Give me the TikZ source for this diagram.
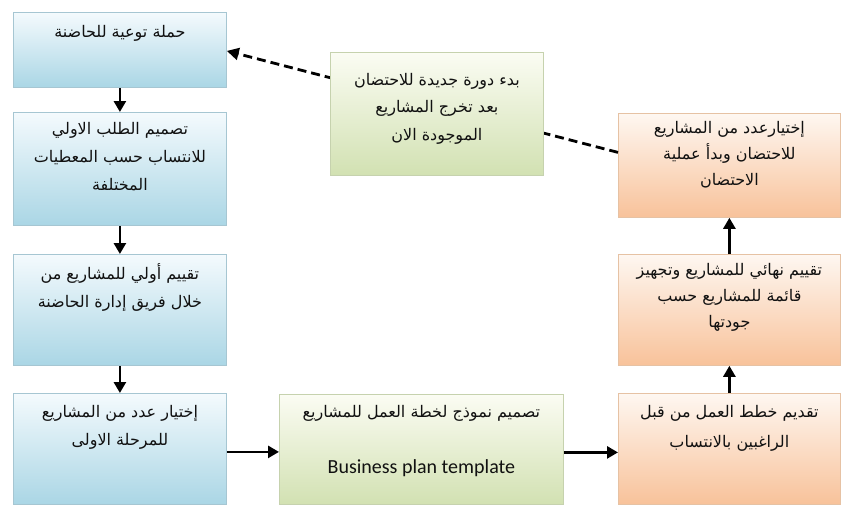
\documentclass[tikz,border=0pt]{standalone}
\usepackage{fontspec}
\setmainfont{Carlito}
\newfontfamily\arabicfont[Script=Arabic]{DejaVu Sans}
\TeXXeTstate=1
\usetikzlibrary{arrows.meta,calc}
\definecolor{bluetop}{HTML}{F4FAFD}
\definecolor{bluebot}{HTML}{AAD6E5}
\definecolor{blueline}{HTML}{A6C6D2}
\definecolor{greentop}{HTML}{FBFCF3}
\definecolor{greenbot}{HTML}{D2E1B2}
\definecolor{greenline}{HTML}{C6D2AE}
\definecolor{orangetop}{HTML}{FEF7F1}
\definecolor{orangebot}{HTML}{F8C29A}
\definecolor{orangeline}{HTML}{E6C2A4}
\definecolor{txtcol}{HTML}{111111}
\tikzset{
  boxbase/.style={rectangle, anchor=north west, inner sep=0pt, line width=0.8pt},
  bluebox/.style={boxbase, draw=blueline, top color=bluetop, bottom color=bluebot},
  greenbox/.style={boxbase, draw=greenline, top color=greentop, bottom color=greenbot},
  orangebox/.style={boxbase, draw=orangeline, top color=orangetop, bottom color=orangebot},
  ar/.style={anchor=north, align=center, inner sep=0pt, text=txtcol,
    font=\arabicfont\fontsize{16}{28}\selectfont},
  conn/.style={line width=2.6pt, -{Triangle[length=11pt,width=12pt]}},
  dconn/.style={line width=2.8pt, dash pattern=on 9pt off 5pt, -{Triangle[length=12pt,width=12pt]}}
}
\begin{document}
\begin{tikzpicture}[x=1pt,y=-1pt]
\useasboundingbox (0,0) rectangle (841,506);
% left column
\node[bluebox, minimum width=213pt, minimum height=75pt] (b1) at (13,12) {};
\node[bluebox, minimum width=213pt, minimum height=113pt] (b2) at (13,112) {};
\node[bluebox, minimum width=213pt, minimum height=111pt] (b3) at (13,254) {};
\node[bluebox, minimum width=213pt, minimum height=111pt] (b4) at (13,393) {};
% bottom middle
\node[greenbox, minimum width=284pt, minimum height=110pt] (m1) at (279,394) {};
% right column
\node[orangebox, minimum width=222pt, minimum height=111pt] (r1) at (618,393) {};
\node[orangebox, minimum width=222pt, minimum height=111pt] (r2) at (618,254) {};
\node[orangebox, minimum width=222pt, minimum height=104pt] (r3) at (618,113) {};

% texts
\node[ar] (t1) at ([yshift=-13pt]b1.north) {\beginR حملة توعية للحاضنة\endR};
\node[ar] (t2) at ([yshift=-10pt]b2.north) {\beginR تصميم الطلب الاولي\endR\\\beginR للانتساب حسب المعطيات\endR\\\beginR المختلفة\endR};
\node[ar] (t3) at ([yshift=-9pt]b3.north) {\beginR تقييم أولي للمشاريع من\endR\\\beginR خلال فريق إدارة الحاضنة\endR};
\node[ar] (t4) at ([yshift=-12pt]b4.north) {\beginR إختيار عدد من المشاريع\endR\\\beginR للمرحلة الاولى\endR};
\node[ar] (t5) at ([yshift=-11pt]m1.north) {\beginR تصميم نموذج لخطة العمل للمشاريع\endR};
\node[anchor=center, inner sep=0pt, text=txtcol, font=\fontsize{20}{24}\selectfont] (t6) at ($(m1.north)+(0,-74pt)$) {Business plan template};
\node[ar, font=\arabicfont\fontsize{16}{30}\selectfont] (t7) at ([yshift=-12pt]r1.north) {\beginR تقديم خطط العمل من قبل\endR\\\beginR الراغبين بالانتساب\endR};
\node[ar, font=\arabicfont\fontsize{16}{26}\selectfont] (t8) at ([yshift=-9pt]r2.north) {\beginR تقييم نهائي للمشاريع وتجهيز\endR\\\beginR قائمة للمشاريع حسب\endR\\\beginR جودتها\endR};
\node[ar, font=\arabicfont\fontsize{16}{26}\selectfont] (t9) at ([yshift=-8pt]r3.north) {\beginR إختيارعدد من المشاريع\endR\\\beginR للاحتضان وبدأ عملية\endR\\\beginR الاحتضان\endR};

% solid connectors
\draw[conn] (b1.south) -- (b2.north);
\draw[conn] (b2.south) -- (b3.north);
\draw[conn] (b3.south) -- (b4.north);
\draw[conn] ([yshift=-3pt]b4.east) -- ([yshift=-3pt]b4.east -| m1.west);
\draw[conn] ([yshift=-3pt]m1.east) -- ([yshift=-3pt]m1.east -| r1.west);
\draw[conn] (r1.north) -- (r2.south);
\draw[conn] (r2.north) -- (r3.south);

% dashed connector (passes behind the green note)
\draw[dconn] ([yshift=13pt]r3.west) -- ([yshift=-1pt]b1.east);

% top middle note
\node[greenbox, minimum width=213pt, minimum height=123pt] (m2) at (330,52) {};
\node[ar, font=\arabicfont\fontsize{16}{27.5}\selectfont] (t10) at ([yshift=-21pt]m2.north) {\beginR بدء دورة جديدة للاحتضان\endR\\\beginR بعد تخرج المشاريع\endR\\\beginR الموجودة الان\endR};
\end{tikzpicture}
\end{document}
